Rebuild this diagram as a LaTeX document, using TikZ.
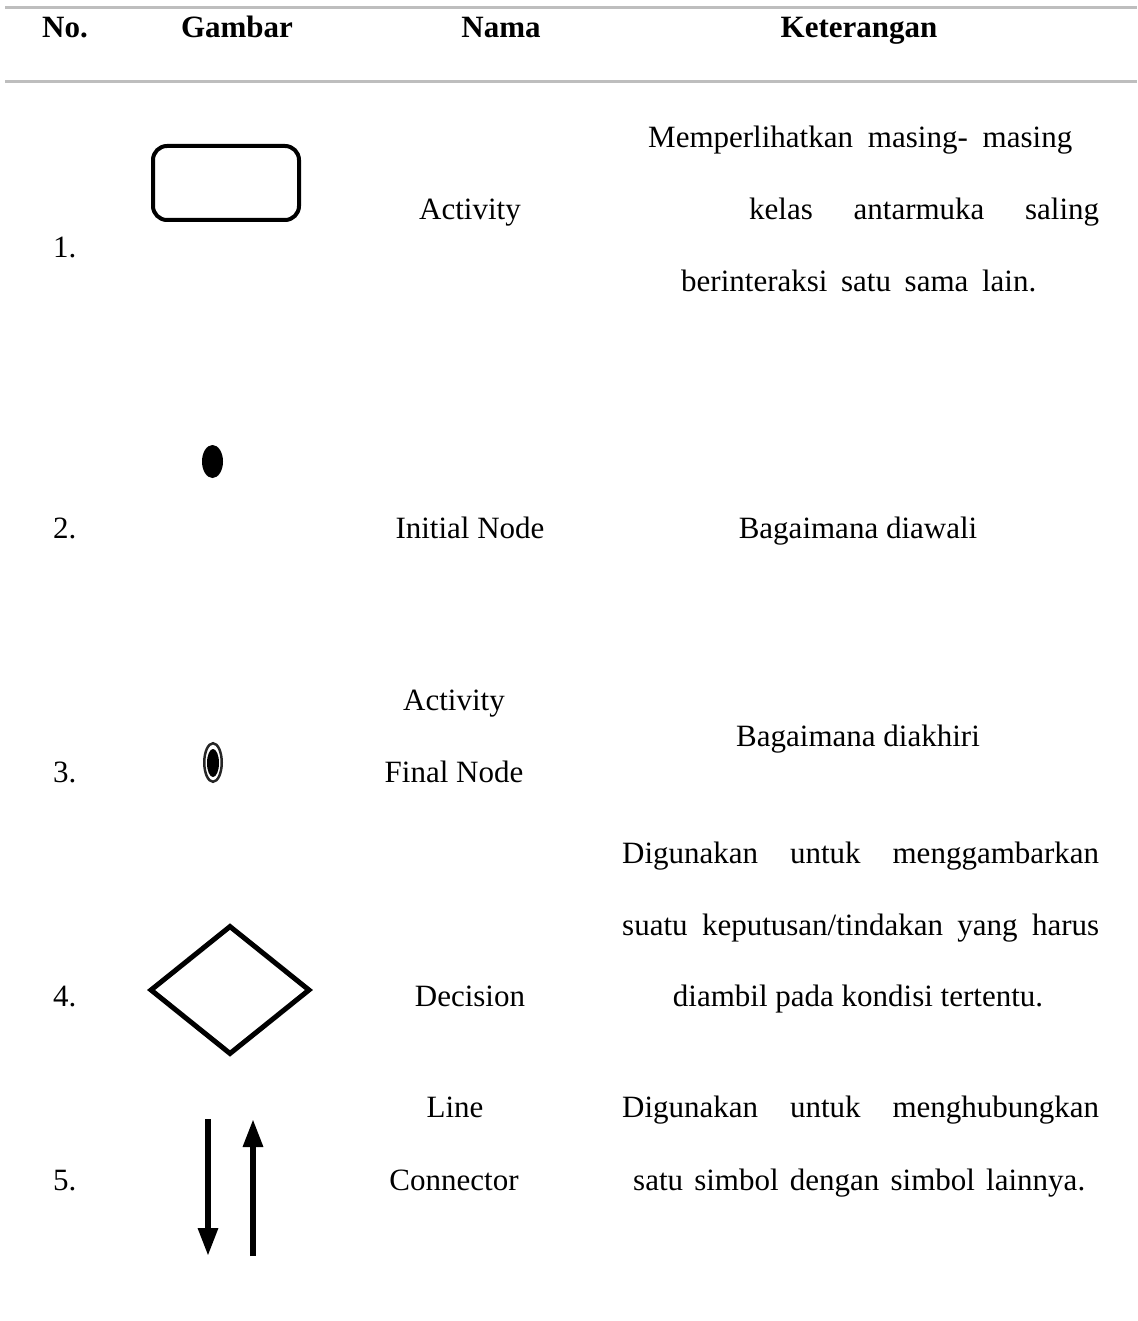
\documentclass[tikz,border=0pt]{standalone}
\usepackage{fontspec}
\setmainfont{Liberation Serif}
\usetikzlibrary{arrows.meta,shapes.geometric}
\definecolor{rulegray}{RGB}{190,190,190}
\newcommand{\bodyfont}{\fontsize{31}{37}\selectfont}
\begin{document}
\begin{tikzpicture}[x=1pt,y=-1pt,
  txt/.style={anchor=base,inner sep=0pt,font=\bodyfont},
  txtl/.style={anchor=base west,inner sep=0pt,font=\bodyfont},
  hdr/.style={anchor=base,inner sep=0pt,font=\bodyfont\bfseries},
  hrule/.style={draw=rulegray,line width=3pt},
  symline/.style={draw=black,line width=4pt},
  conn/.style={line width=6pt,-{Triangle[length=28pt,width=19pt]}}]
\useasboundingbox (0,0) rectangle (1137,1321);

% table rules
\coordinate (r1a) at (5,8);   \coordinate (r1b) at (1137,8);
\coordinate (r2a) at (5,82);  \coordinate (r2b) at (1137,82);
\draw[hrule] (r1a) -- (r1b);
\draw[hrule] (r2a) -- (r2b);

% header
\node[hdr] (hno)  at (65,38)  {No.};
\node[hdr] (hgam) at (237,38) {Gambar};
\node[hdr] (hnam) at (501,38) {Nama};
\node[hdr] (hket) at (859,38) {Keterangan};

% row 1: activity
\node[txtl] (n1) at (53,258) {1.};
\node[symline,rectangle,rounded corners=14pt,minimum width=146pt,minimum height=74pt,inner sep=0pt] (act) at (226,183) {};
\node[txt] (nm1) at (470,220) {Activity};
\node[txtl] (k1a) at (648,148) {\hbox to 424pt{Memperlihatkan\hfill masing-\hfill masing}};
\node[txtl] (k1b) at (749,220) {\hbox to 350pt{kelas\hfill antarmuka\hfill saling}};
\node[txtl] (k1c) at (681,292) {\hbox to 355pt{berinteraksi\hfill satu\hfill sama\hfill lain.}};

% row 2: initial node
\node[txtl] (n2) at (53,538) {2.};
\node[ellipse,fill=black,minimum width=21pt,minimum height=33pt,inner sep=0pt] (init) at (212.5,461.5) {};
\node[txt] (nm2) at (470,538) {Initial Node};
\node[txt] (k2) at (858,538) {Bagaimana diawali};

% row 3: activity final node
\node[txtl] (n3) at (53,782) {3.};
\node[ellipse,draw=black!85,line width=2.5pt,minimum width=17.5pt,minimum height=38.5pt,inner sep=0pt] (finout) at (213,762.5) {};
\node[ellipse,fill=black,minimum width=12pt,minimum height=28pt,inner sep=0pt] (finin) at (213,763) {};
\node[txt] (nm3a) at (454,710) {Activity};
\node[txt] (nm3b) at (454,782) {Final Node};
\node[txt] (k3) at (858,746) {Bagaimana diakhiri};

% row 4: decision
\node[txtl] (n4) at (53,1006) {4.};
\node[diamond,draw=black,line width=5pt,minimum width=160pt,minimum height=129pt,inner sep=0pt] (dec) at (230,990) {};
\node[txt] (nm4) at (470,1006) {Decision};
\node[txtl] (k4a) at (622,863) {\hbox to 477pt{Digunakan\hfill untuk\hfill menggambarkan}};
\node[txtl] (k4b) at (622,935) {\hbox to 477pt{suatu\hfill keputusan/tindakan\hfill yang\hfill harus}};
\node[txt] (k4c) at (858,1006) {diambil pada kondisi tertentu.};

% row 5: line connector
\node[txtl] (n5) at (53,1190) {5.};
\coordinate (dtop) at (208,1119); \coordinate (dbot) at (208,1256);
\coordinate (ubot) at (253,1256); \coordinate (utop) at (253,1119);
\draw[conn] (dtop) -- (dbot);
\draw[conn] (ubot) -- (utop);
\node[txt] (nm5a) at (455,1117) {Line};
\node[txt] (nm5b) at (454,1190) {Connector};
\node[txtl] (k5a) at (622,1117) {\hbox to 477pt{Digunakan\hfill untuk\hfill menghubungkan}};
\node[txtl] (k5b) at (633,1190) {\hbox to 452pt{satu\hfill simbol\hfill dengan\hfill simbol\hfill lainnya.}};
\end{tikzpicture}
\end{document}
